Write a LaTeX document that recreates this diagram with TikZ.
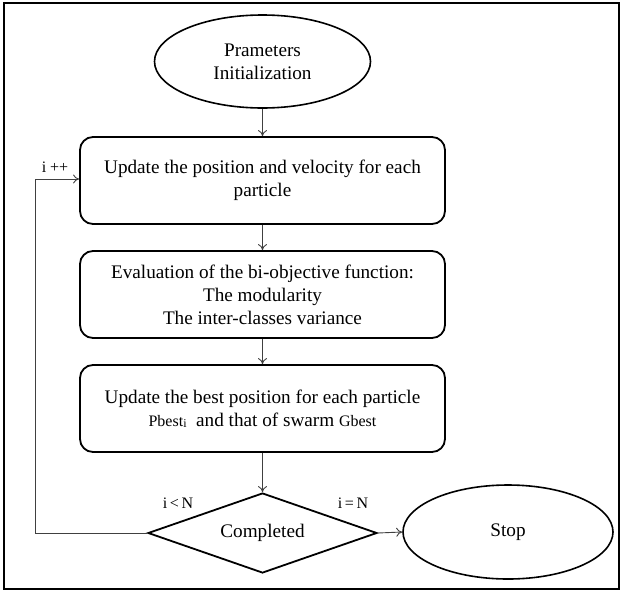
\documentclass[tikz,border=0pt]{standalone}
\usepackage{fontspec}
\setmainfont{Liberation Serif}
\usetikzlibrary{shapes.geometric,arrows.meta}
\begin{document}
\begin{tikzpicture}[x=1pt,y=-1pt,
  every node/.style={font=\fontsize{19.2}{23}\selectfont},
  procbox/.style={draw, line width=1.8pt, rounded corners=13pt, align=center,
    minimum width=365pt, minimum height=87pt, inner sep=0pt},
  terminal/.style={draw, line width=1.6pt, ellipse, align=center, inner sep=0pt},
  decision/.style={draw, line width=1.8pt, diamond, inner sep=0pt,
    minimum width=229pt, minimum height=80pt, aspect=2.86},
  flow/.style={draw=black!75, line width=0.9pt, -{To[length=6pt,width=9pt]}},
  small/.style={font=\fontsize{16}{18}\selectfont, inner sep=0pt}]
\useasboundingbox (0,0) rectangle (621,592);
\draw[line width=1.4pt] (4,3) rectangle (619,589);

\node[terminal, minimum width=216pt, minimum height=93pt] (init) at (262.5,61.5)
  {Prameters\\Initialization};
\node[procbox] (upd) at (262.5,180.5)
  {Update the position and velocity for each\\particle};
\node[procbox] (eval) at (262.5,294.5)
  {Evaluation of the bi-objective function:\\The modularity\\The inter-classes variance};
\node[procbox] (best) at (262.5,408.5)
  {Update the best position for each particle\\
   {\fontsize{16}{18}\selectfont Pbest\raisebox{-1pt}{\fontsize{12}{14}\selectfont i}}\enspace and that of swarm
   {\fontsize{16}{18}\selectfont Gbest}};
\node[decision] (done) at (262.5,533) {Completed};
\node[terminal, minimum width=210pt, minimum height=94pt] (stop) at (508,532) {Stop};

\coordinate (back) at (35,533);

\draw[flow] (init.south) -- (upd.north);
\draw[flow] (upd.south) -- (eval.north);
\draw[flow] (eval.south) -- (best.north);
\draw[flow] (best.south) -- (done.north);
\draw[flow] (done.east) -- (stop.west);
\draw[flow] (done.west) -- (back) |- ([yshift=1.5pt]upd.west);

\node[small] (inc) at (55,167) {i ++};
\node[small] (lt) at (178,503) {i\,<\,N};
\node[small] (eq) at (353,503) {i\,=\,N};
\end{tikzpicture}
\end{document}
